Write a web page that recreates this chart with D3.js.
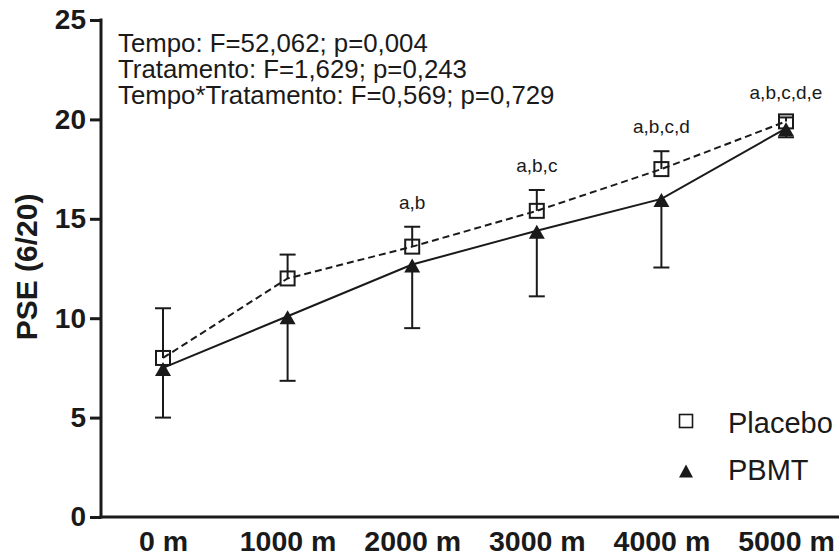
<!DOCTYPE html>
<html>
<head>
<meta charset="utf-8">
<script src="https://cdn.jsdelivr.net/npm/d3@7"></script>
<style>
  html, body { margin: 0; padding: 0; background: #fff; }
  svg { display: block; }
  text { font-family: "Liberation Sans", Arial, sans-serif; fill: #1a1a1a; }
</style>
</head>
<body>
<svg id="chart" width="839" height="560"></svg>
<script>
// ---- data ----
const categories = ["0 m", "1000 m", "2000 m", "3000 m", "4000 m", "5000 m"];
const placeboMean = [8.0, 12.0, 13.6, 15.4, 17.5, 19.9];
const placeboSD   = [2.5, 1.2, 1.0, 1.05, 0.9, 0.2];
const pbmtMean    = [7.5, 10.1, 12.7, 14.4, 16.0, 19.55];
const pbmtSD      = [2.5, 3.25, 3.2, 3.3, 3.45, 0.45];
const yTicks = [0, 5, 10, 15, 20, 25];
const sigLabels = ["", "", "a,b", "a,b,c", "a,b,c,d", "a,b,c,d,e"];
const statsLines = [
  "Tempo: F=52,062; p=0,004",
  "Tratamento: F=1,629; p=0,243",
  "Tempo*Tratamento: F=0,569; p=0,729"
];
const legendItems = ["Placebo", "PBMT"];
const yTitle = "PSE (6/20)";

// ---- layout ----
const svg = d3.select("#chart");
const axisX = 101, axisY = 517;
const x = d3.scalePoint().domain(categories).range([163, 786]);
const y = d3.scaleLinear().domain([0, 25]).range([517, 20]);
const ink = "#1a1a1a";
const ff = "Liberation Sans, Arial, sans-serif";

// y axis
const yAxis = d3.axisLeft(y).tickValues(yTicks).tickSize(11).tickPadding(4).tickFormat(d3.format("d"));
const gy = svg.append("g").attr("transform", `translate(${axisX},0)`).call(yAxis);
gy.select(".domain").remove();
gy.selectAll(".tick line").attr("stroke", ink).attr("stroke-width", 3);
gy.selectAll(".tick text").attr("font-size", 28).attr("font-weight", "bold").attr("fill", ink)
  .attr("font-family", ff);
svg.append("line").attr("x1", axisX).attr("x2", axisX).attr("y1", y(25) - 1.5).attr("y2", axisY + 1.5)
  .attr("stroke", ink).attr("stroke-width", 3);

// x axis
const xAxis = d3.axisBottom(x).tickSize(0).tickPadding(14);
const gx = svg.append("g").attr("transform", `translate(0,${axisY})`).call(xAxis);
gx.select(".domain").remove();
gx.selectAll(".tick text").attr("font-size", 28.5).attr("font-weight", "bold").attr("fill", ink)
  .attr("font-family", ff);
svg.append("line").attr("x1", axisX - 1.5).attr("x2", 839).attr("y1", axisY).attr("y2", axisY)
  .attr("stroke", ink).attr("stroke-width", 3);

// y title
svg.append("text").attr("transform", `translate(37,267) rotate(-90)`)
  .attr("text-anchor", "middle").attr("font-size", 30).attr("font-weight", "bold").text(yTitle);

// stats text
svg.append("g").selectAll("text").data(statsLines).join("text")
  .attr("x", 118).attr("y", (d, i) => 52 + i * 26)
  .attr("font-size", 25.8).text(d => d);

const placebo = categories.map((c, i) => ({ c, m: placeboMean[i], sd: placeboSD[i] }));
const pbmt = categories.map((c, i) => ({ c, m: pbmtMean[i], sd: pbmtSD[i] }));

const line = d3.line().x(d => x(d.c)).y(d => y(d.m));

// lines
svg.append("path").datum(placebo).attr("d", line).attr("fill", "none")
  .attr("stroke", ink).attr("stroke-width", 2).attr("stroke-dasharray", "7,4");
svg.append("path").datum(pbmt).attr("d", line).attr("fill", "none")
  .attr("stroke", ink).attr("stroke-width", 2);

// error bars
const cap = 8;
function errBars(data, dir) {
  const g = svg.append("g").attr("stroke", ink).attr("stroke-width", 2);
  g.selectAll(".v").data(data).join("line")
    .attr("x1", d => x(d.c)).attr("x2", d => x(d.c))
    .attr("y1", d => y(d.m)).attr("y2", d => y(d.m + dir * d.sd));
  g.selectAll(".c").data(data).join("line")
    .attr("x1", d => x(d.c) - cap).attr("x2", d => x(d.c) + cap)
    .attr("y1", d => y(d.m + dir * d.sd)).attr("y2", d => y(d.m + dir * d.sd));
}
errBars(placebo, 1);
errBars(pbmt, -1);

// markers
const sq = 14;
svg.append("g").selectAll("rect").data(placebo).join("rect")
  .attr("x", d => x(d.c) - sq / 2).attr("y", d => y(d.m) - sq / 2)
  .attr("width", sq).attr("height", sq)
  .attr("fill", "none").attr("stroke", ink).attr("stroke-width", 2);
const tri = (cx, cy, w, h) => `M${cx},${cy - h / 2}L${cx + w / 2},${cy + h / 2}L${cx - w / 2},${cy + h / 2}Z`;
svg.append("g").selectAll("path").data(pbmt).join("path")
  .attr("d", d => tri(x(d.c), y(d.m) + 1, 16, 14)).attr("fill", ink);

// significance labels
svg.append("g").selectAll("text").data(placebo.map((d, i) => ({ ...d, lab: sigLabels[i] })).filter(d => d.lab))
  .join("text")
  .attr("x", d => x(d.c)).attr("y", d => y(d.m + d.sd) - 18)
  .attr("text-anchor", "middle").attr("font-size", 19).text(d => d.lab);

// legend
const lg = svg.append("g");
lg.append("rect").attr("x", 686 - 6.5).attr("y", 421 - 6.5).attr("width", 13).attr("height", 13)
  .attr("fill", "none").attr("stroke", ink).attr("stroke-width", 1.6);
lg.append("path").attr("d", tri(686, 471, 14, 13)).attr("fill", ink);
lg.selectAll("text").data(legendItems).join("text")
  .attr("x", 728).attr("y", (d, i) => 433 + i * 47)
  .attr("font-size", 29).text(d => d);
</script>
</body>
</html>
